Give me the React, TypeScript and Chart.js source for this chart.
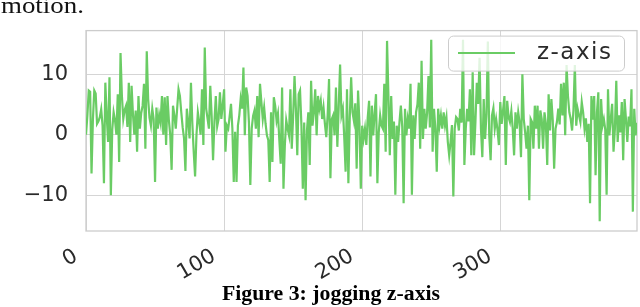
import { useEffect, useRef } from "react";
import { Chart, registerables } from "chart.js";

Chart.register(...registerables);

// z-axis acceleration readings, samples 0-99
const zSegment1 = [
  0, 3.2, 7.3, 7.1, -6.4, 2.5, 7.3, 6.8, 1.8, 2.2,
  2.9, 4.2, 1.5, -8, 8.6, 3.1, -1.2, 9.5, -10, 0.8,
  3.7, 2.4, 0, 6.7, -4.5, 13.5, 6.4, 2.6, 4.1, 4.8,
  1.3, 8.6, -1.2, 8.1, 3.4, 0, 4, -2.8, 6.4, 1,
  3.6, 4.8, 8.4, -2.3, 13.8, 5.9, 2.8, 1.5, 4.3, 2.6,
  -7.8, 4.5, 1, 3.3, 2, 6.4, 0, 6.2, -1.7, 6.4,
  2.4, 0, -5.8, 4.8, 3.2, 1, 4.3, 7.5, 6.4, 3.7,
  1.2, -0.6, -6, 4.3, 2.2, -0.6, 8.6, 1.9, -2.8, -6.9,
  0, 3.7, 2.1, 0, 7.5, -1.7, 14.4, 4.3, 2.7, 1,
  8.1, 3.1, -4.2, 2.1, 6.4, 1.4, 2.6, 7, 2.6, 4.9,
];
// samples 100-199
const zSegment2 = [
  7.5, -2.8, 1.5, 1.0, 3.0, 5.1, 1.0, -7.8, 0.5, -7.8,
  1.5, 3.2, 5.9, 4.3, 11.1, -0.1, 7.8, 6.4, 2.0, -8.3,
  1.0, 3.1, 4.0, 1.0, 6.4, -0.4, 8.4, 5.4, 2.6, 4.5,
  1.9, -0.1, -0.9, -7.8, 3.7, -4.5, 6.2, 4.8, 2.3, 3.5,
  -0.9, -4.8, 7.8, -8.9, -1.7, 2.4, 1.0, -0.1, 7.5, -2.3,
  3.0, 9.7, 4.3, -3.4, 6.7, 7.3, 1.5, -8.9, 2.0, -10.8,
  0.7, 3.7, -5.0, 8.9, 1.5, 3.7, 7.5, -0.1, 6.4, 4.3,
  5.6, 2.6, 4.5, 1.8, -0.4, 3.3, 9.2, -7.2, 2.6, 3.2,
  -0.1, 7.8, -2.0, 4.6, 11.6, 3.2, 4.3, -0.4, -6.1, 7.5,
  -8.0, 2.8, 9.5, 3.7, 2.3, 5.2, -5.6, 7.3, 1.9, -8.9,
];
// samples 200-299
const zSegment3 = [
  1.5, -0.7, 1.0, -1.7, 2.8, 5.6, -6.9, 4.8, -0.1, 3.5,
  6.7, -8.0, 0.4, 3.2, 1.5, 1.0, 8.4, -2.8, 15.5, 6.4,
  -3.4, 6.4, -0.7, 2.2, -9.9, 1.5, -1.2, 2.1, 4.8, 1.3,
  -11.3, 4.3, -0.1, 2.6, 1.0, 8.4, -9.9, 3.2, -0.7, 3.7,
  5.0, 8.6, -2.3, 12.2, -0.7, 4.3, 1.0, 3.6, 9.7, 1.2,
  15.7, -2.8, 4.3, 1.0, -6.1, 4.3, 1.5, 3.2, 1.0, 3.7,
  1.5, 2.9, -1.2, -3.4, -1.2, 1.6, -10.2, 1.0, 2.9, 2.6,
  0.7, 4.3, 2.0, 15.7, -5.0, 1.0, 4.3, 2.2, 7.5, -3.4,
  10.3, -3.4, 2.1, 8.6, 5.1, 12.7, 1.0, -3.7, 5.9, -0.7,
  3.4, 15.4, -0.1, -4.2, 3.2, 4.4, 1.0, 2.6, 0.8, -1.7,
];
// samples 300-399
const zSegment4 = [
  5.4, 1.8, 4.0, 6.4, -5.0, 5.6, 2.9, 2.1, 3.9, 1.0,
  -3.4, 3.7, 1.0, 3.7, 2.0, -3.7, 10.0, 2.6, 0.4, -2.3,
  1.5, -10.8, 2.6, 2.1, -2.3, 4.8, 1.0, 4.8, -2.3, 4.0,
  2.6, -2.3, 3.7, 1.9, -5.0, 6.7, 0.7, 5.9, 2.4, -5.6,
  1.0, 2.1, 4.3, 1.7, 8.4, 3.2, 8.6, -0.1, 11.5, 6.4,
  3.7, 2.6, 0.7, 4.1, 11.5, 1.5, 4.3, 3.2, 2.1, 5.4,
  3.7, 1.0, 2.7, -1.2, 1.8, -11.3, 6.4, 2.5, 6.4, -6.7,
  3.7, 7.0, -14.3, 5.9, 1.5, 2.6, 0.9, -9.9, 7.5, -0.1,
  2.6, 5.1, -2.8, 1.0, 8.9, -1.2, 3.2, 0.4, 5.4, -4.2,
  5.9, 2.6, -1.2, 3.0, 1.4, 7.5, -12.7, 4.3, -0.1, 2.0,
];

const zAxisValues = [...zSegment1, ...zSegment2, ...zSegment3, ...zSegment4];
const seriesLabel = "z-axis";
const xTickValues = [0, 100, 200, 300];
const yTickValues = [-10, 0, 10];
const yMin = -15.9;
const yMax = 17.2;

const LINE_COLOR = "#6acc64";
const GRID_COLOR = "#d5d5d5";
const FRAME_COLOR = "#cccccc";
const TEXT_COLOR = "#2a2a2a";
const TICK_FONT = { family: "'DejaVu Sans', sans-serif", size: 21 };

export default function App() {
  const canvasRef = useRef<HTMLCanvasElement>(null);

  useEffect(() => {
    const canvas = canvasRef.current;
    if (!canvas) return;

    const framePlugin = {
      id: "frame",
      beforeDatasetsDraw(chart: any) {
        const { ctx, chartArea: a } = chart;
        ctx.save();
        ctx.strokeStyle = FRAME_COLOR;
        ctx.lineWidth = 1.3;
        ctx.strokeRect(a.left, a.top, a.right - a.left, a.bottom - a.top);
        ctx.restore();
      },
    };

    const legendPlugin = {
      id: "boxedLegend",
      afterDatasetsDraw(chart: any) {
        const { ctx, chartArea: a } = chart;
        const ds = chart.data.datasets[0];
        const w = 176;
        const h = 35;
        const x = a.right - 13 - w;
        const y = a.top + 5;
        ctx.save();
        ctx.beginPath();
        ctx.roundRect(x + 0.5, y + 0.5, w, h, 5);
        ctx.fillStyle = "rgba(255,255,255,0.8)";
        ctx.fill();
        ctx.strokeStyle = "#cccccc";
        ctx.lineWidth = 1;
        ctx.stroke();
        const cy = y + h / 2;
        ctx.beginPath();
        ctx.moveTo(x + 10, cy);
        ctx.lineTo(x + 67, cy);
        ctx.strokeStyle = ds.borderColor;
        ctx.lineWidth = 2;
        ctx.stroke();
        ctx.fillStyle = TEXT_COLOR;
        ctx.font = "23px 'DejaVu Sans', sans-serif";
        (ctx as any).letterSpacing = "1.5px";
        ctx.textBaseline = "middle";
        ctx.textAlign = "left";
        ctx.fillText(ds.label, x + 89, cy);
        ctx.restore();
      },
    };

    const chart = new Chart(canvas, {
      type: "line",
      data: {
        datasets: [
          {
            label: seriesLabel,
            data: zAxisValues.map((v, i) => ({ x: i, y: v })),
            borderColor: LINE_COLOR,
            backgroundColor: LINE_COLOR,
            borderWidth: 2.2,
            pointRadius: 0,
            tension: 0,
            fill: false,
          },
        ],
      },
      options: {
        animation: false,
        responsive: false,
        maintainAspectRatio: false,
        layout: { padding: { left: 0, right: 3, top: 29, bottom: 0 } },
        plugins: {
          legend: { display: false },
          tooltip: { enabled: false },
        },
        scales: {
          x: {
            type: "linear",
            min: 0,
            max: zAxisValues.length - 1,
            afterBuildTicks: (scale: any) => {
              scale.ticks = xTickValues.map((value) => ({ value }));
            },
            afterFit: (scale: any) => {
              scale.height = 76;
            },
            grid: { color: GRID_COLOR, lineWidth: 1, drawTicks: false },
            border: { display: false },
            ticks: {
              minRotation: 30,
              maxRotation: 30,
              padding: 13,
              labelOffset: -10,
              color: TEXT_COLOR,
              font: TICK_FONT,
              callback: (v: any) => String(v),
            },
          },
          y: {
            type: "linear",
            min: yMin,
            max: yMax,
            afterBuildTicks: (scale: any) => {
              scale.ticks = yTickValues.map((value) => ({ value }));
            },
            afterFit: (scale: any) => {
              scale.width = 86;
            },
            grid: { color: GRID_COLOR, lineWidth: 1, drawTicks: false },
            border: { display: false },
            ticks: {
              padding: 18,
              color: TEXT_COLOR,
              font: TICK_FONT,
              callback: (v: any) => (Number(v) < 0 ? "\u2212" + Math.abs(Number(v)) : String(v)),
            },
          },
        },
      },
      plugins: [framePlugin, legendPlugin],
    });

    return () => chart.destroy();
  }, []);

  return (
    <div
      style={{
        position: "fixed",
        left: 0,
        top: 0,
        width: 640,
        height: 307,
        background: "#ffffff",
        overflow: "hidden",
      }}
    >
      <canvas
        ref={canvasRef}
        width={640}
        height={307}
        style={{ position: "absolute", left: 0, top: 0, width: 640, height: 307 }}
      />
      <div
        style={{
          position: "absolute",
          left: 1,
          top: -7,
          font: "24px 'Liberation Serif', serif",
          lineHeight: "24px",
          whiteSpace: "nowrap",
          transform: "scaleX(1.12)",
          transformOrigin: "left top",
          color: "#111",
        }}
      >
        motion.
      </div>
      <div
        style={{
          position: "absolute",
          left: 331,
          top: 283,
          font: "bold 20px 'Liberation Serif', serif",
          lineHeight: "20px",
          whiteSpace: "nowrap",
          transform: "translateX(-50%) scaleX(1.09)",
          color: "#000",
        }}
      >
        Figure 3: jogging z-axis
      </div>
    </div>
  );
}
